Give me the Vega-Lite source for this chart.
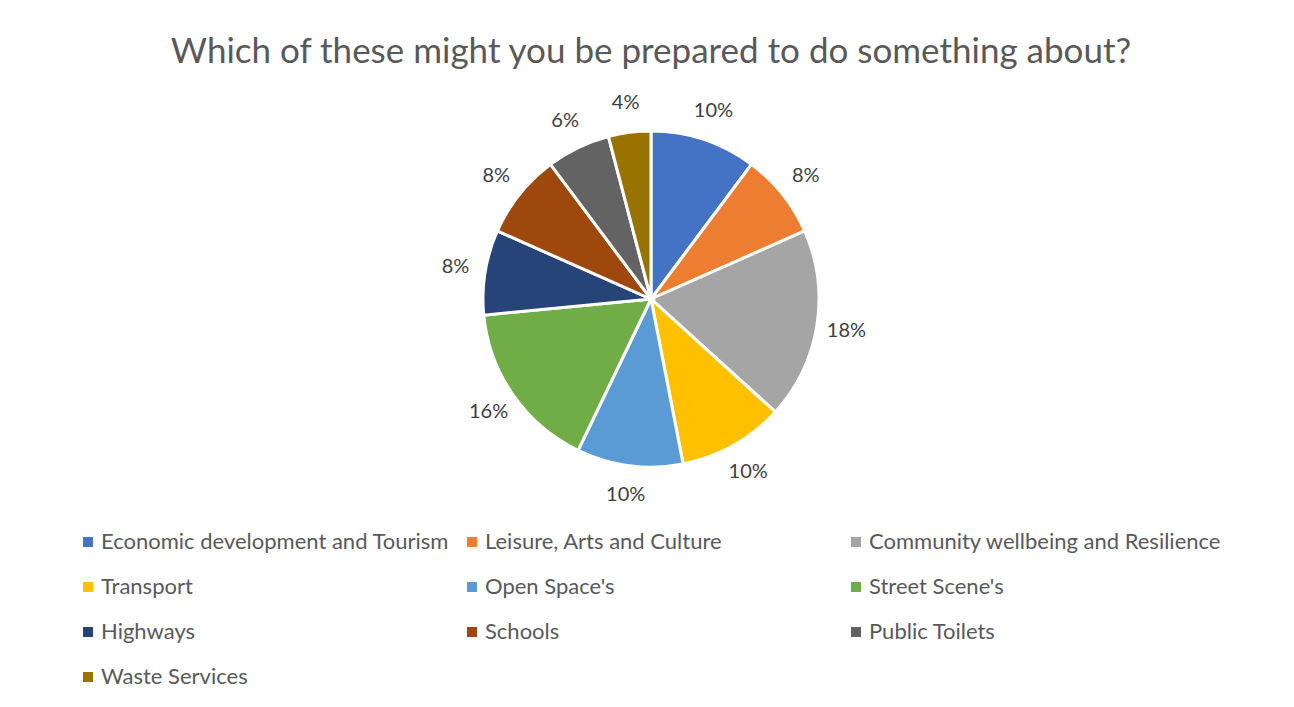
{
  "$schema": "https://vega.github.io/schema/vega-lite/v6.json",
  "width": 400,
  "height": 400,
  "autosize": {"type": "none"},
  "padding": {"left": 451, "top": 99, "right": 443, "bottom": 208},
  "background": "white",
  "title": {
    "text": "Which of these might you be prepared to do something about?",
    "font": "Lato",
    "fontSize": 35,
    "fontWeight": "normal",
    "color": "#595959",
    "anchor": "middle",
    "baseline": "bottom",
    "offset": -12,
    "limit": 1200
  },
  "data": {
    "values": [
      {"order": 1, "category": "Economic development and Tourism", "count": 5, "label": "10%"},
      {"order": 2, "category": "Leisure, Arts and Culture", "count": 4, "label": "8%"},
      {"order": 3, "category": "Community wellbeing and Resilience", "count": 9, "label": "18%"},
      {"order": 4, "category": "Transport", "count": 5, "label": "10%"},
      {"order": 5, "category": "Open Space's", "count": 5, "label": "10%"},
      {"order": 6, "category": "Street Scene's", "count": 8, "label": "16%"},
      {"order": 7, "category": "Highways", "count": 4, "label": "8%"},
      {"order": 8, "category": "Schools", "count": 4, "label": "8%"},
      {"order": 9, "category": "Public Toilets", "count": 3, "label": "6%"},
      {"order": 10, "category": "Waste Services", "count": 2, "label": "4%"}
    ]
  },
  "encoding": {
    "theta": {"field": "count", "type": "quantitative", "stack": true},
    "order": {"field": "order", "type": "quantitative"}
  },
  "layer": [
    {
      "mark": {"type": "arc", "outerRadius": 168, "stroke": "white", "strokeWidth": 3},
      "encoding": {
        "color": {
          "field": "category",
          "type": "nominal",
          "sort": ["Economic development and Tourism", "Leisure, Arts and Culture", "Community wellbeing and Resilience", "Transport", "Open Space's", "Street Scene's", "Highways", "Schools", "Public Toilets", "Waste Services"],
          "scale": {
            "domain": ["Economic development and Tourism", "Leisure, Arts and Culture", "Community wellbeing and Resilience", "Transport", "Open Space's", "Street Scene's", "Highways", "Schools", "Public Toilets", "Waste Services"],
            "range": ["#4472C4", "#ED7D31", "#A5A5A5", "#FFC000", "#5B9BD5", "#70AD47", "#264478", "#9E480E", "#636363", "#997300"]
          },
          "legend": {
            "orient": "none",
            "direction": "horizontal",
            "legendX": -374,
            "legendY": 432,
            "columns": 3,
            "gridAlign": "all",
            "title": null,
            "padding": 0,
            "symbolType": "square",
            "symbolSize": 100,
            "symbolStrokeWidth": 0,
            "labelFont": "Lato",
            "labelFontSize": 22,
            "labelColor": "#595959",
            "labelOffset": 2,
            "labelLimit": 500,
            "rowPadding": 23,
            "columnPadding": 7
          }
        }
      }
    },
    {
      "mark": {"type": "text", "radius": 198, "font": "Lato", "fontSize": 20, "color": "#404040", "align": "center", "baseline": "middle"},
      "encoding": {
        "text": {"field": "label", "type": "nominal"}
      }
    }
  ]
}
